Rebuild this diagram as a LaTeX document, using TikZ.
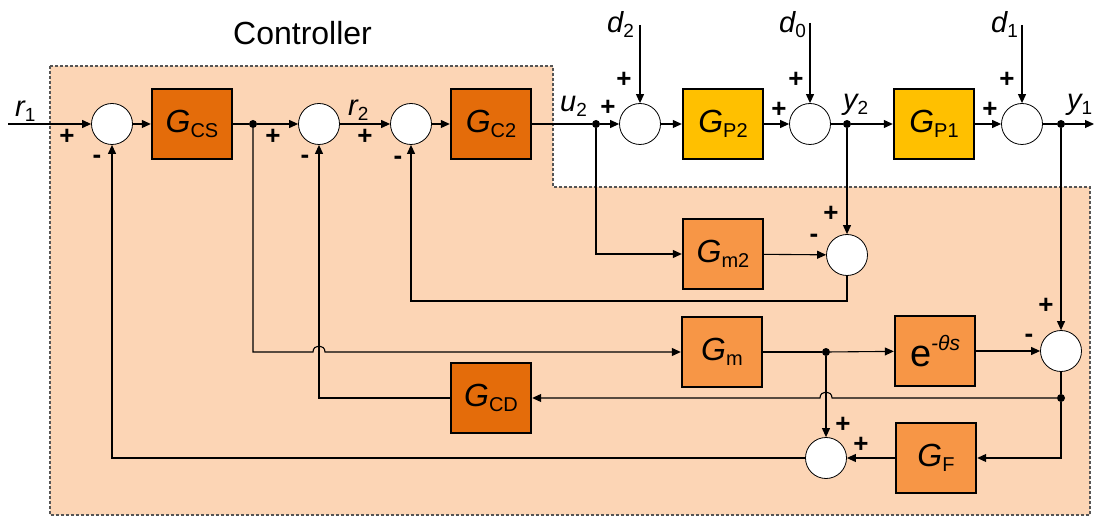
\documentclass[tikz,border=0pt]{standalone}
\usepackage{fontspec}
\setmainfont{Liberation Sans}
\usetikzlibrary{arrows.meta}
\definecolor{bgc}{HTML}{FCD5B5}
\definecolor{darkor}{HTML}{E46C0A}
\definecolor{lightor}{HTML}{F79646}
\definecolor{yel}{HTML}{FFC000}
\definecolor{dashc}{HTML}{555555}
\newcommand\GG[1]{{\fontsize{32}{32}\selectfont\itshape G}\raisebox{-5pt}{\fontsize{20}{20}\selectfont #1}}
\newcommand\sig[2]{{\fontsize{29}{29}\selectfont\itshape #1}\raisebox{-5pt}{\fontsize{19}{19}\selectfont #2}}
\begin{document}
\begin{tikzpicture}[x=1pt,y=-1pt,
  blk/.style={draw=black,line width=2.4pt,minimum width=80pt,minimum height=70pt,inner sep=0pt},
  dkblk/.style={blk,fill=darkor},
  ltblk/.style={blk,fill=lightor},
  ylblk/.style={blk,fill=yel},
  sumc/.style={circle,draw=black,line width=0.8pt,fill=white,minimum size=41pt,inner sep=0pt},
  dotn/.style={circle,fill=black,minimum size=8pt,inner sep=0pt},
  sigline/.style={line width=1.1pt,draw=black},
  arr/.style={sigline,-{Triangle[length=9pt,width=8pt]}},
  pm/.style={font=\fontsize{26}{26}\selectfont\bfseries,inner sep=0pt},
  lbl/.style={anchor=base west,inner sep=0pt}
]
\useasboundingbox (0,0) rectangle (1094,518);
\fill[white] (0,0) rectangle (1094,518);

% controller region
\draw[dashed,dash pattern=on 3pt off 2pt,line width=1.2pt,draw=dashc,fill=bgc]
  (50,66) -- (553,66) -- (553,187) -- (1090,187) -- (1090,515) -- (50,515) -- cycle;
\node[lbl,font=\fontsize{32}{32}\selectfont] (ctl) at (233,45) {Controller};

% main row
\node[sumc] (s1) at (112,124) {};
\node[dkblk] (gcs) at (192,124) {\GG{CS}};
\node[dotn] (dA) at (253,124) {};
\node[sumc] (s2) at (319,124) {};
\node[sumc] (s3) at (411,124) {};
\node[dkblk] (gc2) at (491,124) {\GG{C2}};
\node[dotn] (dU) at (596,124) {};
\node[sumc] (s4) at (640,124) {};
\node[ylblk] (gp2) at (723,124) {\GG{P2}};
\node[sumc] (s5) at (810,124) {};
\node[dotn] (dY2) at (847,124) {};
\node[ylblk] (gp1) at (934,124) {\GG{P1}};
\node[sumc] (s6) at (1022,124) {};
\node[dotn] (dY1) at (1061,124) {};

% lower rows
\node[ltblk] (gm2) at (723,254) {\GG{m2}};
\node[sumc] (s7) at (847,255) {};
\node[ltblk] (gm) at (722,352) {\GG{m}};
\node[dotn] (dM) at (826,352) {};
\node[ltblk] (ed) at (935,351) {{\fontsize{38}{38}\selectfont e}\raisebox{16pt}{\fontsize{21}{21}\selectfont\itshape -θs}};
\node[sumc] (s8) at (1061,351) {};
\node[dotn] (dE) at (1061,398) {};
\node[dkblk] (gcd) at (491,398) {\GG{CD}};
\node[ltblk] (gf) at (936,458) {\GG{F}};
\node[sumc] (s9) at (826,458) {};

% free ends
\coordinate (r1in) at (8,124);
\coordinate (d2t) at (640,25);
\coordinate (d0t) at (810,23);
\coordinate (d1t) at (1022,25);
\coordinate (yout) at (1094,124);

% signal labels
\node[lbl] (lr1) at (15,117) {\sig{r}{1}};
\node[lbl] (lr2) at (348,116) {\sig{r}{2}};
\node[lbl] (lu2) at (560,112) {\sig{u}{2}};
\node[lbl] (ld2) at (607,33) {\sig{d}{2}};
\node[lbl] (ld0) at (779,33) {\sig{d}{0}};
\node[lbl] (ld1) at (991,33) {\sig{d}{1}};
\node[lbl] (ly2) at (843,110) {\sig{y}{2}};
\node[lbl] (ly1) at (1067,110) {\sig{y}{1}};

% signs
\node[pm] (p1a) at (67,137) {+};
\node[pm] (p1b) at (97,159) {-};
\node[pm] (p2a) at (273,137) {+};
\node[pm] (p2b) at (305,159) {-};
\node[pm] (p3a) at (365,137) {+};
\node[pm] (p3b) at (398,160) {-};
\node[pm] (p4a) at (608,108) {+};
\node[pm] (p4b) at (624,80) {+};
\node[pm] (p5a) at (779,110) {+};
\node[pm] (p5b) at (796,80) {+};
\node[pm] (p6a) at (990,110) {+};
\node[pm] (p6b) at (1007,80) {+};
\node[pm] (p7a) at (831,214) {+};
\node[pm] (p7b) at (814,238) {-};
\node[pm] (p8a) at (1046,306) {+};
\node[pm] (p8b) at (1029,338) {-};
\node[pm] (p9a) at (843,425) {+};
\node[pm] (p9b) at (861,445) {+};

% main path connectors
\draw[arr] (r1in) -- (s1);
\draw[arr] (s1) -- (gcs);
\draw[sigline] (gcs) -- (dA);
\draw[arr] (dA) -- (s2);
\draw[arr] (s2) -- (s3);
\draw[arr] (s3) -- (gc2);
\draw[sigline] (gc2) -- (dU);
\draw[arr] (dU) -- (s4);
\draw[arr] (d2t) -- (s4);
\draw[arr] (s4) -- (gp2);
\draw[arr] (gp2) -- (s5);
\draw[arr] (d0t) -- (s5);
\draw[sigline] (s5) -- (dY2);
\draw[arr] (dY2) -- (gp1);
\draw[arr] (gp1) -- (s6);
\draw[arr] (d1t) -- (s6);
\draw[sigline] (s6) -- (dY1);
\draw[arr] (dY1) -- (yout);

% inner model loop
\draw[arr] (dU) |- (gm2);
\draw[arr] (gm2) -- (s7);
\draw[arr] (dY2) -- (s7);
\draw[arr] (s7.south) -- (847,301) -| (s3.south);

% model / delay path
\draw[arr] (dA) -- (253,352) -- (313,352) .. controls (313,344) and (325,344) .. (325,352) -- (gm.west);
\draw[sigline] (gm) -- (dM);
\draw[arr] (dM) -- (ed);
\draw[arr] (ed) -- (s8);
\draw[arr] (dY1) -- (s8);
\draw[sigline] (s8) -- (dE);
\draw[arr] (dE) -- (832,398) .. controls (832,390) and (820,390) .. (820,398) -- (gcd.east);
\draw[arr] (gcd.west) -| (s2.south);
\draw[arr] (dE) |- (gf.east);
\draw[arr] (gf) -- (s9);
\draw[arr] (dM) -- (s9);
\draw[arr] (s9.west) -| (s1.south);
\end{tikzpicture}
\end{document}
